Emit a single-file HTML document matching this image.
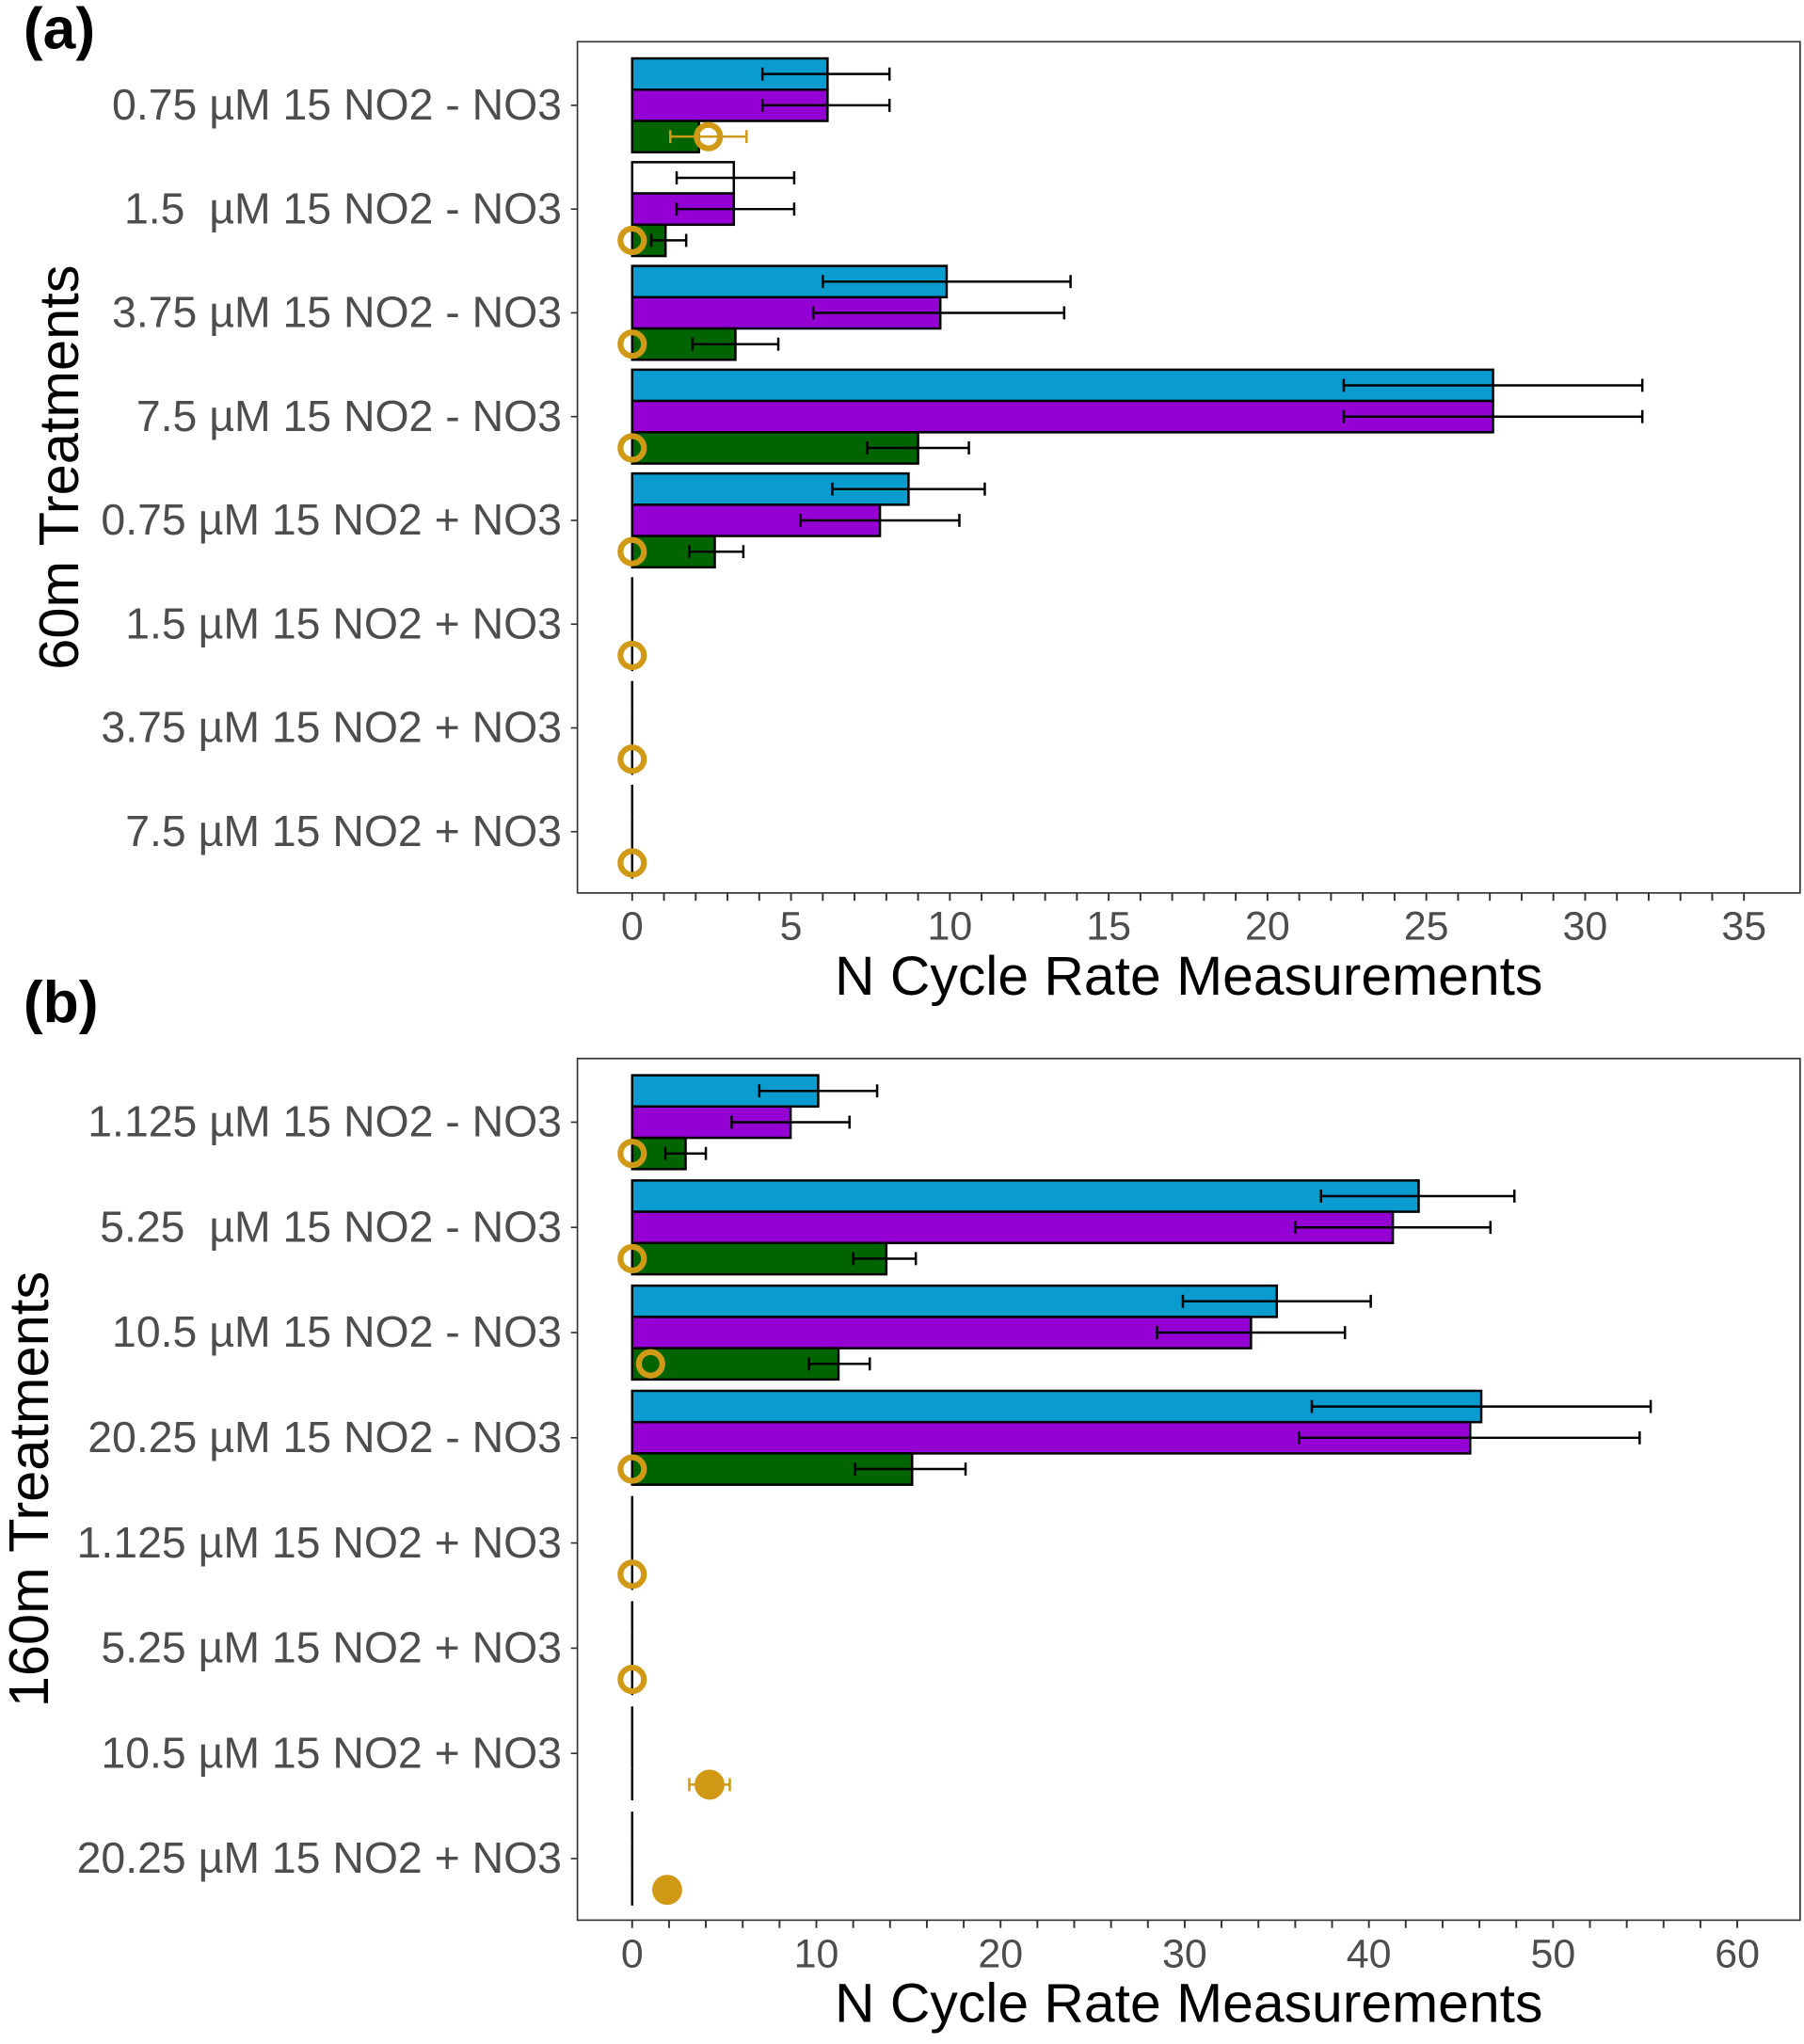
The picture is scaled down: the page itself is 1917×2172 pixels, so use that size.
<!DOCTYPE html>
<html><head><meta charset="utf-8"><style>
html,body{margin:0;padding:0;background:#fff}
svg{display:block}
text{font-family:"Liberation Sans",Arial,sans-serif;white-space:pre}
</style></head><body>
<svg id="fig" width="1917" height="2172" viewBox="0 0 1384 1568" preserveAspectRatio="none" xmlns="http://www.w3.org/2000/svg">
<rect width="1384" height="1568" fill="#fff"/>
</svg>
<script>
// ---- Panel (a) data ----
const catsA = ["0.75 µM 15 NO2 - NO3","1.5  µM 15 NO2 - NO3","3.75 µM 15 NO2 - NO3","7.5 µM 15 NO2 - NO3","0.75 µM 15 NO2 + NO3","1.5 µM 15 NO2 + NO3","3.75 µM 15 NO2 + NO3","7.5 µM 15 NO2 + NO3"];
const blueA = [6.15,3.2,9.9,27.1,8.7,0,0,0];
const blueLoA = [4.1,1.4,6.0,22.4,6.3,0,0,0];
const blueHiA = [8.1,5.1,13.8,31.8,11.1,0,0,0];
const purpA = [6.15,3.2,9.7,27.1,7.8,0,0,0];
const purpLoA = [4.1,1.4,5.7,22.4,5.3,0,0,0];
const purpHiA = [8.1,5.1,13.6,31.8,10.3,0,0,0];
const greenA = [2.1,1.05,3.25,9.0,2.6,0,0,0];
const greenLoA = [2.1,0.6,1.9,7.4,1.8,0,0,0];
const greenHiA = [2.1,1.7,4.6,10.6,3.5,0,0,0];
const ptA = [2.4,0,0,0,0,0,0,0];
const ptLoA = [1.2,0,0,0,0,0,0,0];
const ptHiA = [3.6,0,0,0,0,0,0,0];
const ptFilledA = [0,0,0,0,0,0,0,0];
const ticksA = [0,5,10,15,20,25,30,35];
// ---- Panel (b) data ----
const catsB = ["1.125 µM 15 NO2 - NO3","5.25  µM 15 NO2 - NO3","10.5 µM 15 NO2 - NO3","20.25 µM 15 NO2 - NO3","1.125 µM 15 NO2 + NO3","5.25 µM 15 NO2 + NO3","10.5 µM 15 NO2 + NO3","20.25 µM 15 NO2 + NO3"];
const blueB = [10.1,42.7,35.0,46.1,0,0,0,0];
const blueLoB = [6.9,37.4,29.9,36.9,0,0,0,0];
const blueHiB = [13.3,47.9,40.1,55.3,0,0,0,0];
const purpB = [8.6,41.3,33.6,45.5,0,0,0,0];
const purpLoB = [5.4,36.0,28.5,36.2,0,0,0,0];
const purpHiB = [11.8,46.6,38.7,54.7,0,0,0,0];
const greenB = [2.9,13.8,11.2,15.2,0,0,0,0];
const greenLoB = [1.8,12.0,9.6,12.1,0,0,0,0];
const greenHiB = [4.0,15.4,12.9,18.1,0,0,0,0];
const ptB = [0,0,1.0,0,0,0,4.2,1.9];
const ptLoB = [0,0,1.0,0,0,0,3.1,1.4];
const ptHiB = [0,0,1.0,0,0,0,5.3,2.4];
const ptFilledB = [0,0,0,0,0,0,1,1];
const ticksB = [0,10,20,30,40,50,60];

const NS="http://www.w3.org/2000/svg";
const svg=document.getElementById('fig');
function mk(tag,attrs,parent){const e=document.createElementNS(NS,tag);for(const k in attrs)e.setAttribute(k,attrs[k]);(parent||svg).appendChild(e);return e;}
const GOLD="#D09A17";

function panel(cfg){
  const g=mk('g',{});
  
  
  const x=v=>cfg.x0+v*cfg.ppu;
  const rowC=i=>cfg.yTop+cfg.step*(i+0.5);
  const frame=mk('rect',{x:cfg.L,y:cfg.T,width:cfg.R-cfg.L,height:cfg.B-cfg.T,fill:'none',stroke:'#333','stroke-width':1.2},g);
  
  
  const bh=24;
  function errbar(y,lo,hi,col){
    if(hi<=lo)return;
    const e=mk('path',{d:`M${x(lo)},${y}H${x(hi)}M${x(lo)},${y-5}V${y+5}M${x(hi)},${y-5}V${y+5}`,stroke:col,'stroke-width':1.8,fill:'none'},g);
    
    
  }
  cfg.cats.forEach((c,i)=>{
    const yc=rowC(i);
    const t=mk('text',{x:cfg.L-12,y:yc+11,'text-anchor':'end','font-size':33.5,fill:'#4d4d4d'},g);
    t.textContent=c;
    
    
    mk('line',{x1:cfg.L-5,x2:cfg.L,y1:yc,y2:yc,stroke:'#333','stroke-width':1.2},g);
    const top=yc-36;
    const series=[[cfg.blue,cfg.blueLo,cfg.blueHi,i==1&&cfg.whiteSecond?'#fff':'#0A9BCF','bar-blue'],[cfg.purp,cfg.purpLo,cfg.purpHi,'#9400D3','bar-purple'],[cfg.green,cfg.greenLo,cfg.greenHi,'#006400','bar-green']];
    series.forEach((s,k)=>{
      const v=s[0][i];const y=top+k*bh;
      let r;
      if(v>0){
        r=mk('rect',{x:x(0),y:y,width:x(v)-x(0),height:bh,fill:s[3],stroke:'#000','stroke-width':1.8},g);
      } else {
        r=mk('line',{x1:x(0),x2:x(0),y1:y,y2:y+bh,stroke:'#000','stroke-width':1.8},g);
      }
      
      
    });
    series.forEach((s,k)=>{errbar(top+k*bh+bh/2,s[1][i],s[2][i],'#000');});
    const py=top+2.5*bh;
    errbar(py,cfg.ptLo[i],cfg.ptHi[i],GOLD);
    const filled=cfg.ptFilled[i];
    const p=mk('circle',{cx:x(cfg.pt[i]),cy:py,r:filled?10.5:9,fill:filled?GOLD:'none',stroke:GOLD,'stroke-width':filled?2:4.5},g);
    
    
  });
  for(let v=0;v<=cfg.max;v+=cfg.minor){
    mk('line',{x1:x(v),x2:x(v),y1:cfg.B,y2:cfg.B+6,stroke:'#333','stroke-width':1.4},g);
  }
  cfg.ticks.forEach(v=>{
    const t=mk('text',{x:x(v),y:cfg.B+36,'text-anchor':'middle','font-size':31,fill:'#4d4d4d'},g);
    t.textContent=v;
    
    
  });
  const xt=mk('text',{x:912,y:cfg.B+78,'text-anchor':'middle','font-size':42.5,fill:'#000'},g);
  xt.textContent='N Cycle Rate Measurements';
  
  
  const yt=mk('text',{x:0,y:0,'text-anchor':'middle','font-size':43,fill:'#000',transform:`translate(${cfg.ytx},${(cfg.T+cfg.B)/2}) rotate(-90)`},g);
  yt.textContent=cfg.ytitle;
  
  
  const pl=mk('text',{x:18,y:cfg.labY,'font-size':45,'font-weight':'bold',fill:'#000'},g);
  pl.textContent=cfg.label;
  
  
}
panel({name:'panel-a',L:443,R:1381,T:32,B:685,x0:485,ppu:24.37,yTop:41,step:79.6,max:35,minor:1,ticks:ticksA,
  cats:catsA,blue:blueA,blueLo:blueLoA,blueHi:blueHiA,purp:purpA,purpLo:purpLoA,purpHi:purpHiA,green:greenA,greenLo:greenLoA,greenHi:greenHiA,
  pt:ptA,ptLo:ptLoA,ptHi:ptHiA,ptFilled:ptFilledA,whiteSecond:true,ytitle:'60m Treatments',ytx:60,label:'(a)',labY:37});
panel({name:'panel-b',L:443,R:1381,T:812,B:1473,x0:485,ppu:14.13,yTop:820.5,step:80.7,max:60,minor:2,ticks:ticksB,
  cats:catsB,blue:blueB,blueLo:blueLoB,blueHi:blueHiB,purp:purpB,purpLo:purpLoB,purpHi:purpHiB,green:greenB,greenLo:greenLoB,greenHi:greenHiB,
  pt:ptB,ptLo:ptLoB,ptHi:ptHiB,ptFilled:ptFilledB,whiteSecond:false,ytitle:'160m Treatments',ytx:37,label:'(b)',labY:784});
</script>
</body></html>
